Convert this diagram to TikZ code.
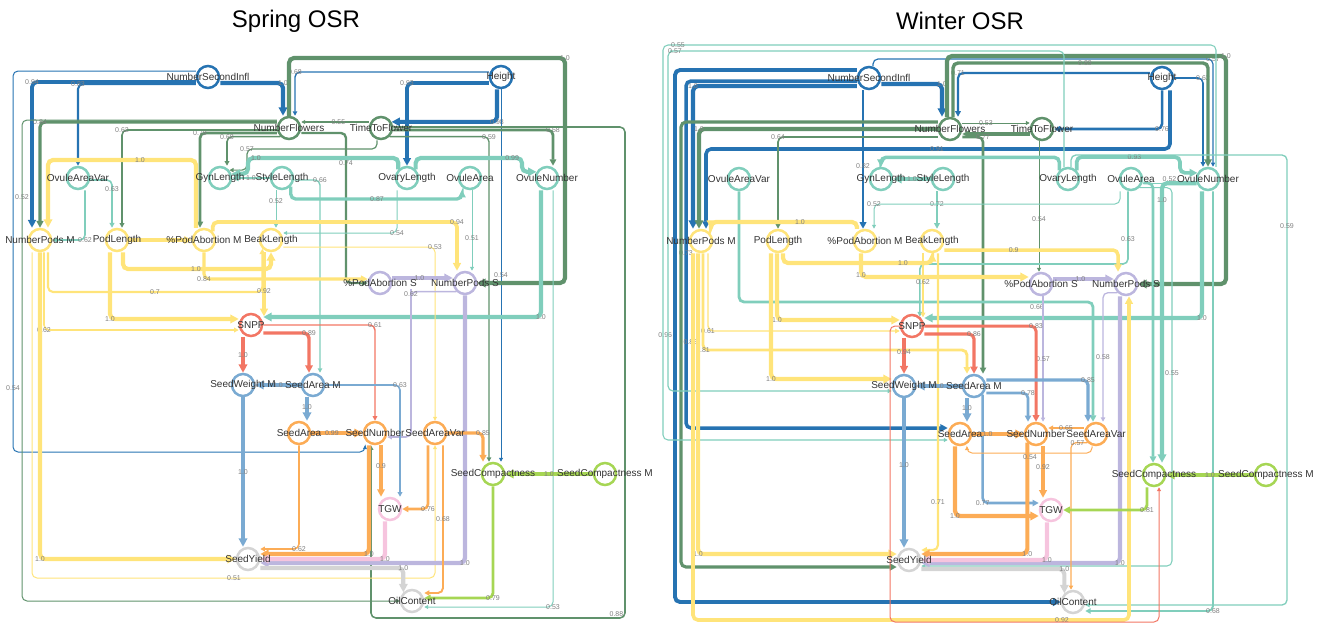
\documentclass[tikz,border=0pt]{standalone}
\usepackage{fontspec}
\setmainfont{Liberation Sans}
\usetikzlibrary{arrows.meta}
\pgfdeclarelayer{bg}
\pgfsetlayers{bg,main}
\definecolor{cblue}{RGB}{38,115,178}
\definecolor{cgreen}{RGB}{96,146,108}
\definecolor{cteal}{RGB}{128,206,188}
\definecolor{cyellow}{RGB}{255,228,122}
\definecolor{clav}{RGB}{188,182,222}
\definecolor{cred}{RGB}{242,118,100}
\definecolor{cmblue}{RGB}{122,170,210}
\definecolor{corange}{RGB}{252,172,86}
\definecolor{clgreen}{RGB}{166,214,84}
\definecolor{cpink}{RGB}{246,196,222}
\definecolor{cgrey}{RGB}{212,212,212}
\tikzset{
  trait/.style={circle, draw=#1, line width=2.5pt, fill=white, minimum size=22pt, inner sep=0pt},
  trtxt/.style={font=\fontsize{10}{12}\selectfont, text=black!80, inner sep=0pt},
  e/.style 2 args={draw=#1, line width={max(1,(#2-0.4)*7)*1pt}, rounded corners=5pt,
    -{Triangle[length=2.5pt 1.4, width=2.5pt 1.4]}},
  lbl/.style={font=\fontsize{7}{8}\selectfont, text=black!50, inner sep=1pt},
}
\begin{document}
\begin{tikzpicture}[x=1pt, y=-1pt]
  \useasboundingbox (0,0) rectangle (1325,624);
  \node[font=\fontsize{24}{28}\selectfont] (springtitle) at (296,21) {Spring OSR};
  \node[font=\fontsize{24}{28}\selectfont] (wintertitle) at (960,21) {Winter OSR};

  % traits, same layout in both panels
  \foreach \n/\x/\y/\col/\lab in {
      nsi/208/77/cblue/NumberSecondInfl, ht/501/77/cblue/Height,
      nf/289/128/cgreen/NumberFlowers, ttf/381/128/cgreen/TimeToFlower,
      oav/78/178/cteal/OvuleAreaVar, gyn/220/178/cteal/GynLength, sty/282/178/cteal/StyleLength,
      ovl/407/178/cteal/OvaryLength, ova/470/178/cteal/OvuleArea, ovn/547/178/cteal/OvuleNumber,
      npm/40/240/cyellow/NumberPods M, pod/117/240/cyellow/PodLength,
      pam/204/240/cyellow/\%PodAbortion M, bkl/271/240/cyellow/BeakLength,
      pas/380/283/clav/\%PodAbortion S, nps/465/283/clav/NumberPods S,
      snpp/251/325/cred/SNPP, swm/243/385/cmblue/SeedWeight M, sam/313/385/cmblue/SeedArea M,
      sa/299/433/corange/SeedArea, sn/375/433/corange/SeedNumber, sav/435/433/corange/SeedAreaVar,
      sc/493/474/clgreen/SeedCompactness, scm/605/474/clgreen/SeedCompactness M,
      tgw/390/509/cpink/TGW, sy/248/559/cgrey/SeedYield, oil/412/601/cgrey/OilContent} {
    \node[trait=\col, label={[trtxt]center:\lab}] (s-\n) at (\x,\y) {};
    \node[trait=\col, label={[trtxt]center:\lab}] (w-\n) at (\x+661,\y+1) {};
  }

  \begin{pgfonlayer}{bg}
  % spring
  \draw[e={cblue}{1.0}] ([yshift=-6pt]s-nsi.east) -| node[lbl,pos=.5]{1.0} ([xshift=-6pt]s-nf.north);
  \draw[e={cblue}{0.94}] ([yshift=-5pt]s-nsi.west) -| node[lbl,pos=.5]{0.94} ([xshift=-8pt]s-npm.north);
  \draw[e={cblue}{0.7}] ([yshift=-7pt]s-nsi.west) -| node[lbl,pos=.5]{0.83} (s-oav.north);
  \draw[e={cblue}{0.54}] ([yshift=6pt]s-nsi.west) -| (13,388) node[lbl]{0.54} |- (365,452) -- ([xshift=-10pt]s-sn.south);
  \draw[e={cblue}{0.98}] ([xshift=-4pt]s-ht.south) |- node[lbl,pos=.5]{0.98} (s-ttf.30);
  \draw[e={cblue}{0.93}] ([yshift=-6pt]s-ht.west) -| node[lbl,pos=.5]{0.93} (s-ovl.north);
  \draw[e={cblue}{0.54}] (s-ht.south) -- node[lbl,pos=.5]{0.54} (s-ht.south |- s-sc.north);
  \draw[e={cblue}{0.6}] ([yshift=5pt]s-ht.west) -| node[lbl,pos=.5]{0.68} ([xshift=6pt]s-nf.north);

  \draw[e={cgreen}{0.84}] ([yshift=6pt]s-nf.west) -| node[lbl,pos=.5]{0.84} (s-npm.north);
  \draw[e={cgreen}{0.78}] ([yshift=-5pt]s-nf.west) -| node[lbl,pos=.5]{0.78} ([xshift=-4pt]s-pam.north);
  \draw[e={cgreen}{0.62}] ([yshift=-2pt]s-nf.west) -| node[lbl,pos=.5]{0.62} ([xshift=5pt]s-pod.north);
  \draw[e={cgreen}{0.62}] (s-nf.south west) -| node[lbl,pos=.5]{0.68} ([xshift=7pt]s-gyn.north);
  \draw[e={cgreen}{0.52}] ([yshift=8pt]s-nf.west) -| (22,197) node[lbl]{0.52} |- (s-oil.west);
  \draw[e={cgreen}{0.55}] ([yshift=6pt]s-ttf.west) -- node[lbl,pos=.45]{0.55} ([yshift=6pt]s-nf.east);
  \draw[e={cgreen}{0.57}] ([xshift=-4pt]s-ttf.south) |- (247,149) node[lbl]{0.57} |- (s-gyn.40);
  \draw[e={cgreen}{0.74}] ([yshift=-5pt]s-nf.east) -| (346,163) node[lbl]{0.74} |- (s-pas.west);
  \draw[e={cgreen}{0.59}] (s-ttf.south east) -| node[lbl,pos=.5]{0.59} ([xshift=-4pt]s-sc.north);
  \draw[e={cgreen}{0.8}] ([yshift=-2pt]s-ttf.east) -| node[lbl,pos=.5]{0.58} ([xshift=6pt]s-ovn.north);
  \draw[e={cgreen}{1.0}] (s-nf.north) |- (565,58) node[lbl]{1.0} |- (s-nps.east);
  \draw[e={cgreen}{0.62}] ([yshift=1pt]s-ttf.east) -| (625,618) node[lbl,above left]{0.88} -| ([xshift=-4pt]s-sn.south);

  \draw[e={cteal}{1.0}] (s-ovl.north west) |- (248,158) node[lbl,right]{1.0} |- (s-gyn.20);
  \draw[e={cteal}{0.8}] (s-sty.west) -- node[lbl,pos=.5]{1.0} (s-gyn.east);
  \draw[e={cteal}{0.52}] ([xshift=-6pt]s-sty.south) -- node[lbl,pos=.3]{0.52} ([xshift=-6pt]s-sty.south |- s-bkl.north);
  \draw[e={cteal}{0.6}] ([yshift=-2pt]s-sty.east) -| node[lbl,pos=.5]{0.66} ([xshift=7pt]s-sam.north);
  \draw[e={cteal}{0.87}] (s-sty.south east) |- (377,199) node[lbl]{0.87} -| ([xshift=-8pt]s-ova.south);
  \draw[e={cteal}{0.99}] (s-ovl.north east) |- (522,158) node[lbl,left]{0.99} |- (s-ovn.150);
  \draw[e={cteal}{0.54}] ([xshift=-10pt]s-ovl.south) |- node[lbl,pos=.5]{0.54} ([yshift=7pt]s-bkl.east);
  \draw[e={cteal}{0.51}] ([xshift=2pt]s-ova.south) -- node[lbl,pos=.6]{0.51} ([xshift=2pt]s-ova.south |- s-nps.north);
  \draw[e={cteal}{1.0}] ([xshift=-6pt]s-ovn.south) |- node[lbl,pos=.5]{1.0} ([yshift=8pt]s-snpp.east);
  \draw[e={cteal}{0.53}] ([xshift=6pt]s-ovn.south) |- node[lbl,pos=.5]{0.53} ([yshift=-6pt]s-oil.east);
  \draw[e={cteal}{0.62}] ([xshift=7pt]s-oav.south) |- node[lbl,pos=.5]{0.62} (s-npm.east);
  \draw[e={cteal}{0.63}] ([yshift=-2pt]s-oav.east) -| node[lbl,pos=.6]{0.63} ([xshift=-5pt]s-pod.north);

  \draw[e={cyellow}{1.0}] ([xshift=-8pt]s-pam.north) |- (140,160) node[lbl]{1.0} -| ([xshift=8pt]s-npm.north);
  \draw[e={cyellow}{0.9}] (s-pod.east) -- (s-pam.west);
  \draw[e={cyellow}{0.94}] (s-pam.north east) |- (457,222) node[lbl]{0.94} -- ([xshift=-8pt]s-nps.north);
  \draw[e={cyellow}{1.0}] ([xshift=6pt]s-pod.south) |- (196,269) node[lbl]{1.0} -| (s-bkl.south);
  \draw[e={cyellow}{0.84}] (s-pam.south) |- node[lbl,pos=.5]{0.84} ([yshift=4pt]s-pas.west);
  \draw[e={cyellow}{0.7}] ([xshift=8pt]s-npm.south) |- (155,292) node[lbl]{0.7} -| (s-bkl.south west);
  \draw[e={cyellow}{0.92}] ([xshift=-7pt]s-bkl.south) -- node[lbl,pos=.6]{0.92} ([xshift=-7pt]s-bkl.south |- s-snpp.north east);
  \draw[e={cyellow}{1.0}] ([xshift=-7pt]s-pod.south) |- node[lbl,pos=.5]{1.0} ([yshift=6pt]s-snpp.west);
  \draw[e={cyellow}{0.62}] ([xshift=4pt]s-npm.south) |- node[lbl,pos=.5]{0.62} ([yshift=-5pt]s-snpp.west);
  \draw[e={cyellow}{1.0}] (s-npm.south) |- node[lbl,pos=.5]{1.0} (s-sy.west);
  \draw[e={cyellow}{0.51}] ([xshift=-8pt]s-npm.south) |- (234,578) node[lbl]{0.51} -| (s-sav.south);
  \draw[e={cyellow}{0.53}] ([yshift=-7pt]s-bkl.east) -| node[lbl,pos=.5]{0.53} (s-sav.north);

  \draw[e={clav}{1.0}] ([yshift=5pt]s-pas.east) -- node[lbl,pos=.45]{1.0} ([yshift=5pt]s-nps.west);
  \draw[e={clav}{1.0}] (s-nps.south) |- node[lbl,pos=.5]{1.0} ([yshift=-4pt]s-sy.east);
  \draw[e={clav}{0.62}] (s-nps.south west) -| (411,294) node[lbl]{0.62} |- ([yshift=-4pt]s-sn.east);

  \draw[e={cred}{1.0}] ([xshift=-8pt]s-snpp.south) -- node[lbl,pos=.5]{1.0} ([xshift=-8pt]s-snpp.south |- s-swm.north);
  \draw[e={cred}{0.89}] ([yshift=-8pt]s-snpp.east) -| node[lbl,pos=.5]{0.89} ([xshift=-4pt]s-sam.north);
  \draw[e={cred}{0.61}] (s-snpp.east) -| node[lbl,pos=.5]{0.61} (s-sn.north);

  \draw[e={cmblue}{1.0}] (s-sam.west) -- node[lbl,pos=.5]{1.0} (s-swm.east);
  \draw[e={cmblue}{1.0}] (s-swm.south) -- node[lbl,pos=.5]{1.0} (s-swm.south |- s-sy.north);
  \draw[e={cmblue}{1.0}] ([xshift=-6pt]s-sam.south) -- node[lbl,pos=.4]{1.0} ([xshift=-6pt]s-sam.south |- s-sa.north);
  \draw[e={cmblue}{0.63}] (s-sam.east) -| node[lbl,pos=.5]{0.63} ([xshift=10pt]s-tgw.north);

  \draw[e={corange}{0.99}] (s-sa.east) -- node[lbl,pos=.4]{0.99} (s-sn.west);
  \draw[e={corange}{0.62}] (s-sa.south) |- node[lbl,pos=.5]{0.62} ([yshift=10pt]s-sy.east);
  \draw[e={corange}{1.0}] ([xshift=-6pt]s-sn.south) |- node[lbl,pos=.5]{1.0} ([yshift=5pt]s-sy.east);
  \draw[e={corange}{0.9}] ([xshift=6pt]s-sn.south) -- node[lbl,pos=.4]{0.9} ([xshift=6pt]s-sn.south |- s-tgw.north);
  \draw[e={corange}{0.76}] ([xshift=-7pt]s-sav.south) |- node[lbl,pos=.5]{0.76} (s-tgw.east);
  \draw[e={corange}{0.68}] ([xshift=8pt]s-sav.south) |- node[lbl,pos=.25]{0.68} ([yshift=8pt]s-oil.east);
  \draw[e={corange}{0.85}] (s-sav.east) -| node[lbl,pos=.5]{0.85} ([xshift=-10pt]s-sc.north);

  \draw[e={cpink}{1.0}] ([xshift=-5pt]s-tgw.south) |- node[lbl,pos=.5]{1.0} (s-sy.east);
  \draw[e={cgrey}{1.0}] ([yshift=-9pt]s-sy.east) -| node[lbl,pos=.5]{1.0} (s-oil.north west);
  \draw[e={clgreen}{1.0}] (s-scm.west) -- node[lbl,pos=.5]{1.0} (s-sc.east);
  \draw[e={clgreen}{0.79}] (s-sc.south) |- node[lbl,pos=.5]{0.79} ([yshift=3pt]s-oil.east);

  % winter
  \draw[e={cblue}{1.0}] ([yshift=-6pt]w-nsi.east) -| node[lbl,pos=.5]{1.0} ([xshift=-8pt]w-nf.north);
  \draw[e={cblue}{1.0}] ([yshift=-8pt]w-nsi.west) -| node[lbl,pos=.5]{1.0} ([xshift=-8pt]w-npm.north);
  \draw[e={cblue}{0.82}] ([xshift=-6pt]w-nsi.south) -- node[lbl,pos=.55]{0.82} ([xshift=-6pt]w-nsi.south |- w-pam.north);
  \draw[e={cblue}{0.96}] ([yshift=8pt]w-nsi.west) -| (675,335) node[lbl,left]{0.96} |- (w-oil.west);
  \draw[e={cblue}{0.9}] ([yshift=-3pt]w-nsi.west) -| (686,253) node[lbl]{0.73} |- ([yshift=6pt]w-sa.west);
  \draw[e={cblue}{0.57}] ([xshift=4pt]w-nsi.north) |- (1213,59) node[lbl]{0.57} -- ([xshift=5pt]w-ovn.north);
  \draw[e={cblue}{0.76}] (w-ht.south) |- node[lbl,pos=.5]{0.76} (w-ttf.east);
  \draw[e={cblue}{0.91}] ([xshift=8pt]w-ht.south) |- (937,149) node[lbl]{0.91} -| ([xshift=5pt]w-npm.north);
  \draw[e={cblue}{0.71}] ([yshift=5pt]w-ht.west) -| node[lbl,pos=.5]{0.71} ([xshift=8pt]w-nf.north);
  \draw[e={cblue}{0.62}] (w-ht.east) -| node[lbl,pos=.5]{0.62} ([xshift=-5pt]w-ovn.north);

  \draw[e={cgreen}{1.0}] (w-nf.west) -| node[lbl,pos=.5]{1.0} ([xshift=-2pt]w-npm.north);
  \draw[e={cgreen}{0.64}] ([yshift=-8pt]w-nf.west) -| node[lbl,pos=.5]{0.64} (w-pod.north);
  \draw[e={cgreen}{1.0}] ([xshift=-3pt]w-nf.north) |- (1226,56) node[lbl]{1.0} |- (w-nps.east);
  \draw[e={cgreen}{0.89}] ([xshift=3pt]w-nf.north) |- (1085,63) node[lbl]{0.89} -| (w-ovn.north);
  \draw[e={cgreen}{0.85}] ([yshift=7pt]w-nf.west) -| (681,342) node[lbl,right]{0.85} |- ([yshift=-7pt]w-sy.west);
  \draw[e={cgreen}{0.53}] ([yshift=6pt]w-nf.east) -- node[lbl,pos=.35]{0.53} ([yshift=6pt]w-ttf.west);
  \draw[e={cgreen}{0.9}] ([yshift=-5pt]w-ttf.west) -- ([yshift=-5pt]w-nf.east);
  \draw[e={cgreen}{0.54}] ([xshift=-3pt]w-ttf.south) -- node[lbl,pos=.6]{0.54} ([xshift=-3pt]w-ttf.south |- w-pas.north);
  \draw[e={cgreen}{0.77}] ([yshift=-8pt]w-nf.east) -| node[lbl,pos=.5]{0.77} ([xshift=9pt]w-sam.north);

  \draw[e={cteal}{0.9}] (w-ovl.north west) -- ++(0,-13) -| (w-gyn.north);
  \draw[e={cteal}{0.93}] (w-ovl.north east) |- node[lbl,pos=.78]{0.93} (1180,157) |- (w-ovn.150);
  \draw[e={cteal}{0.52}] ([yshift=-4pt]w-ova.east) -- node[lbl,pos=.5,above]{0.52} ([yshift=-4pt]w-ovn.west);
  \draw[e={cteal}{1.0}] (w-sty.west) -- node[lbl,pos=.5]{1.0} (w-gyn.east);
  \draw[e={cteal}{0.72}] ([xshift=-6pt]w-sty.south) -- node[lbl,pos=.35]{0.72} ([xshift=-6pt]w-sty.south |- w-bkl.north);
  \draw[e={cteal}{0.52}] ([xshift=-11pt]w-ova.south) |- (874,204) node[lbl]{0.52} -- ([xshift=9pt]w-pam.north);
  \draw[e={cteal}{0.63}] ([xshift=-3pt]w-ova.south) -- ++(0,48) node[lbl]{0.63} |- (930,264) -| (w-snpp.50);
  \draw[e={cteal}{0.8}] (w-oav.south) |- (1037,302) node[lbl,below]{0.66} -| ([xshift=-3pt]w-sav.north);
  \draw[e={cteal}{1.0}] ([xshift=-6pt]w-ovn.south) |- node[lbl,pos=.5]{1.0} ([yshift=8pt]w-snpp.east);
  \draw[e={cteal}{1.0}] (w-ovn.200) -| node[lbl,pos=.53]{1.0} ([xshift=8pt]w-sc.north);
  \draw[e={cteal}{0.8}] ([yshift=-4pt]w-ova.east) -| ([xshift=-1pt]w-sc.north);
  \draw[e={cteal}{0.55}] (w-ova.south east) -| (1172,373) node[lbl]{0.55} |- ([yshift=-6pt]w-sy.east);
  \draw[e={cteal}{0.68}] ([xshift=5pt]w-ovn.south) |- node[lbl,pos=.5]{0.68} ([yshift=-9pt]w-oil.east);
  \draw[e={cteal}{0.59}] ([xshift=3pt]w-ovl.north) |- (1287,155) -- (1287,226) node[lbl]{0.59} |- ([yshift=-3pt]w-oil.east);
  \draw[e={cteal}{0.57}] ([xshift=-4pt]w-ovl.north) |- (675,51) node[lbl]{0.57} -| (668,300) |- ([yshift=-5pt]w-swm.west);
  \draw[e={cteal}{0.55}] ([xshift=8pt]w-ovn.north) |- (678,45) node[lbl]{0.55} -| (663,300) |- ([yshift=-6pt]w-sa.west);

  \draw[e={cyellow}{1.0}] ([xshift=-8pt]w-pam.north) |- (800,222) node[lbl]{1.0} -| ([xshift=10pt]w-npm.north);
  \draw[e={cyellow}{1.0}] ([xshift=5pt]w-pod.south) |- (903,263) node[lbl]{1.0} -| (w-bkl.south);
  \draw[e={cyellow}{0.9}] ([yshift=-9pt]w-bkl.east) -| node[lbl,pos=.2]{0.9} ([xshift=-8pt]w-nps.north);
  \draw[e={cyellow}{1.0}] ([xshift=-4pt]w-pam.south) |- node[lbl,pos=.45]{1.0} ([yshift=7pt]w-pas.west);
  \draw[e={cyellow}{1.0}] ([xshift=-1pt]w-pod.south) |- node[lbl,pos=.5]{1.0} ([yshift=6pt]w-snpp.west);
  \draw[e={cyellow}{0.61}] ([xshift=7pt]w-npm.south) |- node[lbl,pos=.5]{0.61} ([yshift=-5pt]w-snpp.west);
  \draw[e={cyellow}{0.81}] ([xshift=2pt]w-npm.south) |- node[lbl,pos=.5]{0.81} (967,350) -- ([xshift=-7pt]w-sam.north);
  \draw[e={cyellow}{1.0}] ([xshift=-7pt]w-pod.south) |- node[lbl,pos=.5]{1.0} ([yshift=7pt]w-swm.west);
  \draw[e={cyellow}{1.0}] ([xshift=-3pt]w-npm.south) |- node[lbl,pos=.5]{1.0} ([yshift=6pt]w-sy.west);
  \draw[e={cyellow}{0.92}] ([xshift=-8pt]w-npm.south) |- (1062,620) node[lbl]{0.92} -| ([xshift=3pt]w-nps.south);
  \draw[e={cyellow}{0.62}] ([xshift=-9pt]w-bkl.south) -- node[lbl,pos=.45]{0.62} ([xshift=-9pt]w-bkl.south |- w-snpp.north east);
  \draw[e={cyellow}{0.71}] ([xshift=6pt]w-bkl.south) |- node[lbl,pos=.42]{0.71} ([yshift=10pt]w-sy.east);

  \draw[e={clav}{1.0}] ([yshift=5pt]w-pas.east) -- node[lbl,pos=.45]{1.0} ([yshift=5pt]w-nps.west);
  \draw[e={clav}{1.0}] ([xshift=-6pt]w-nps.south) |- node[lbl,pos=.5]{1.0} ([yshift=-3pt]w-sy.east);
  \draw[e={clav}{0.58}] (w-nps.south west) -| node[lbl,pos=.75]{0.58} ([xshift=7pt]w-sav.north);
  \draw[e={clav}{0.57}] ([xshift=2pt]w-pas.south) -- node[lbl,pos=.5]{0.57} ([xshift=2pt]w-pas.south |- w-sn.north);

  \draw[e={cred}{0.94}] ([xshift=-8pt]w-snpp.south) -- node[lbl,pos=.4]{0.94} ([xshift=-8pt]w-snpp.south |- w-swm.north);
  \draw[e={cred}{0.86}] ([yshift=-8pt]w-snpp.east) -| node[lbl,pos=.5]{0.86} (w-sam.north);
  \draw[e={cred}{0.83}] (w-snpp.east) -| node[lbl,pos=.5]{0.83} (w-sn.north);
  \draw[e={cred}{0.5}] (w-snpp.west) -| (890,622) -| ([xshift=5pt]w-sc.south);

  \draw[e={cmblue}{1.0}] (w-sam.west) -- node[lbl,pos=.5]{1.0} (w-swm.east);
  \draw[e={cmblue}{1.0}] (w-swm.south) -- node[lbl,pos=.45]{1.0} (w-swm.south |- w-sy.north);
  \draw[e={cmblue}{1.0}] ([xshift=-7pt]w-sam.south) -- node[lbl,pos=.4]{1.0} ([xshift=-7pt]w-sam.south |- w-sa.north);
  \draw[e={cmblue}{0.78}] ([yshift=-7pt]w-sam.east) -| node[lbl,pos=.5]{0.78} ([xshift=-8pt]w-sn.north);
  \draw[e={cmblue}{0.85}] ([yshift=6pt]w-sam.east) -| node[lbl,pos=.5]{0.85} ([xshift=-8pt]w-sav.north);
  \draw[e={cmblue}{0.77}] (w-sam.south east) |- node[lbl,pos=.5]{0.77} ([yshift=7pt]w-tgw.west);

  \draw[e={corange}{1.0}] (w-sa.east) -- node[lbl,pos=.3]{1.0} (w-sn.west);
  \draw[e={corange}{0.65}] ([yshift=6pt]w-sav.west) -- node[lbl,pos=.5]{0.65} ([yshift=6pt]w-sn.east);
  \draw[e={corange}{1.0}] ([xshift=-5pt]w-sa.south) |- node[lbl,pos=.5]{1.0} ([yshift=-6pt]w-tgw.west);
  \draw[e={corange}{0.92}] ([xshift=7pt]w-sn.south) -- node[lbl,pos=.4]{0.92} ([xshift=7pt]w-sn.south |- w-tgw.north);
  \draw[e={corange}{1.0}] (w-sn.south west) |- node[lbl,pos=.5]{1.0} ([yshift=6pt]w-sy.east);
  \draw[e={corange}{0.54}] ([xshift=-4pt]w-sav.south) |- (1030,453) node[lbl,below]{0.54} -| ([xshift=7pt]w-sa.south);
  \draw[e={corange}{0.57}] (w-sav.south west) -| node[lbl,pos=.3]{0.57} ([xshift=-2pt]w-oil.north);

  \draw[e={cpink}{1.0}] ([xshift=-4pt]w-tgw.south) |- node[lbl,pos=.5]{1.0} (w-sy.east);
  \draw[e={cgrey}{1.0}] ([yshift=-9pt]w-sy.east) -| node[lbl,pos=.5]{1.0} (w-oil.north west);
  \draw[e={clgreen}{1.0}] (w-scm.west) -- node[lbl,pos=.5]{1.0} (w-sc.east);
  \draw[e={clgreen}{0.81}] ([xshift=-7pt]w-sc.south) |- node[lbl,pos=.5]{0.81} (w-tgw.east);
  \end{pgfonlayer}
\end{tikzpicture}
\end{document}
